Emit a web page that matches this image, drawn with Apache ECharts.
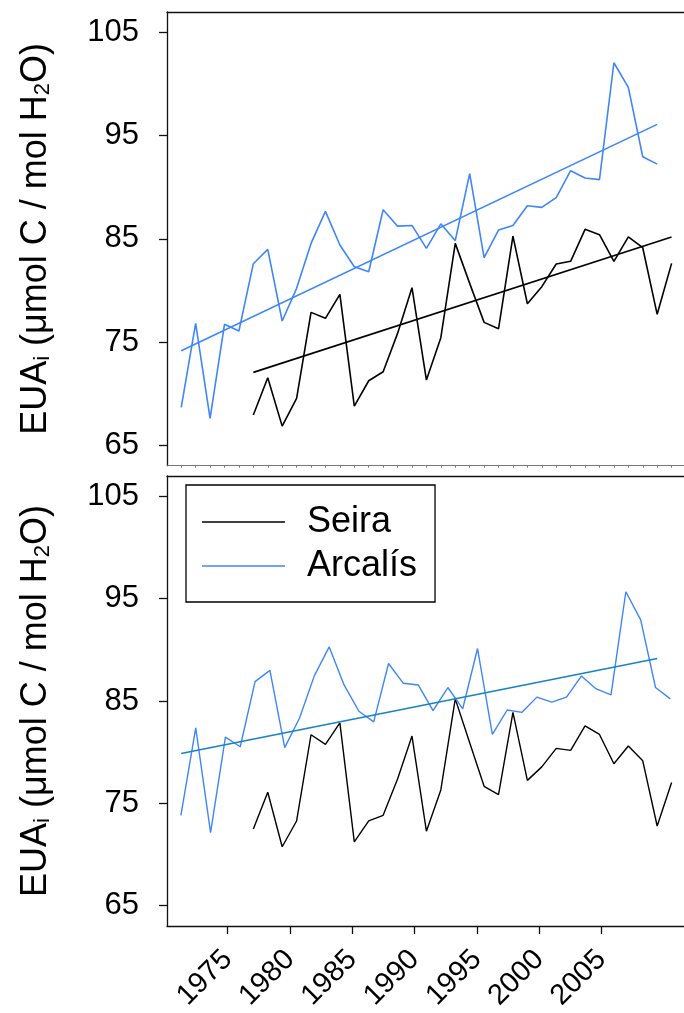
<!DOCTYPE html>
<html>
<head>
<meta charset="utf-8">
<script src="https://cdn.jsdelivr.net/npm/echarts@6/dist/echarts.min.js"></script>
<style>
    html, body { margin: 0; padding: 0; background: #fff; }
    #main { width: 684px; height: 1013px; }
</style>
</head>
<body>
<div id="main"></div>
<script>
// valores (EUAi)
// Arcalís, panel superior: índice 0..33
const arcalisTop = [68.66, 76.80, 67.59, 76.71, 76.06, 82.59, 83.98, 77.03, 80.20, 84.56,
    87.66, 84.40, 82.30, 81.81, 87.82, 86.23, 86.30, 84.08, 86.46, 84.82,
    91.32, 83.17, 85.85, 86.30, 88.21, 88.05, 88.99, 91.61, 90.90, 90.74,
    102.08, 99.69, 92.96, 92.25];
// Seira, panel superior: índice 5..34
const seiraTop = [67.91, 71.53, 66.84, 69.53, 77.87, 77.29, 79.62, 68.78, 71.24, 72.11,
    75.83, 80.26, 71.30, 75.41, 84.56, 80.68, 76.90, 76.28, 85.27, 78.71,
    80.36, 82.56, 82.82, 85.92, 85.40, 82.82, 85.20, 84.14, 77.68, 82.62];
// panel inferior
const seiraBottom = [72.49, 76.08, 70.75, 73.27, 81.70, 80.76, 82.86, 71.23, 73.27, 73.82,
    77.37, 81.57, 72.27, 76.30, 85.21, 80.92, 76.66, 75.85, 83.89, 77.24,
    78.56, 80.37, 80.17, 82.57, 81.73, 78.86, 80.60, 79.15, 72.78, 77.04];
const arcalisBottom = [73.82, 82.37, 72.13, 81.47, 80.53, 86.90, 88.00, 80.44, 83.34, 87.48,
    90.29, 86.57, 84.00, 82.96, 88.67, 86.73, 86.57, 84.05, 86.32, 84.24,
    90.13, 81.73, 84.12, 83.89, 85.38, 84.89, 85.38, 87.44, 86.18, 85.60,
    95.68, 92.94, 86.32, 85.21];
const seiraStart = 5;

// rectas de tendencia: [índice inicial, índice final] y valores
const trendArcalisTopX = [0, 33];
const trendArcalisTopY = [74.15, 96.10];
const trendSeiraTopX = [5, 34];
const trendSeiraTopY = [72.05, 85.17];
const trendBottomX = [0, 33];
const trendBottomY = [79.86, 89.16];

// etiquetas de ejes
const yTicks = [65, 75, 85, 95, 105];
const yearTicks = [1975, 1980, 1985, 1990, 1995, 2000, 2005];
const indexTicks = [];
for (let i = 0; i <= 34; i++) indexTicks.push(i);

const FONT = '"Liberation Sans", Arial, sans-serif';
const BLUE = '#3f86f7';
const TEAL = '#1783c6';

function pairs(values, start) {
    return values.map(function(v, k) { return [k + start, v]; });
}
function trend(xs, ys) {
    return xs.map(function(x, k) { return [x, ys[k]]; });
}

function yAxisFor(gridIndex) {
    return {
        type: 'value', gridIndex: gridIndex, min: 63, max: 107,
        name: '{m|EUA}{s|i}{m| (μmol C / mol H}{s|2}{m|O)}',
        nameLocation: 'middle', nameGap: 113,
        nameTextStyle: {
            color: '#000',
            rich: {
                m: { fontSize: 36, fontFamily: FONT, color: '#000', lineHeight: 36 },
                s: { fontSize: 22, fontFamily: FONT, color: '#000', lineHeight: 12, verticalAlign: 'bottom' }
            }
        },
        axisLine: { show: true, onZero: false, lineStyle: { color: '#111', width: 1.3 } },
        axisTick: { show: true, inside: false, length: 8, customValues: yTicks, lineStyle: { color: '#111', width: 1.3 } },
        axisLabel: { show: true, customValues: yTicks, margin: 28, fontSize: 31, fontFamily: FONT, color: '#000' },
        splitLine: { show: false }
    };
}

const chart = echarts.init(document.getElementById('main'));
const option = {
    animation: false,
    backgroundColor: '#fff',
    grid: [
        { left: 167, top: 12, width: 520, height: 453.7 },
        { left: 167, top: 476, width: 520, height: 453.5 }
    ],
    legend: {
        data: ['Seira', 'Arcalís'],
        orient: 'vertical',
        left: 186, top: 485,
        icon: 'rect', itemWidth: 83, itemHeight: 1.6, itemGap: 8,
        padding: [19, 18, 18, 16],
        borderColor: '#000', borderWidth: 1.3,
        textStyle: { fontSize: 36, fontFamily: FONT, color: '#000', padding: [0, 0, 0, 17] },
        selectedMode: false
    },
    xAxis: [
        // panel superior: eje de índice
        {
            type: 'value', gridIndex: 0, min: -0.986, max: 34.86,
            axisLine: { show: true, onZero: false, lineStyle: { color: '#777', width: 1 } },
            axisTick: { show: true, length: 2, customValues: indexTicks, lineStyle: { color: '#777' } },
            axisLabel: { show: false }, splitLine: { show: false }
        },
        {
            type: 'value', gridIndex: 0, position: 'top', min: 0, max: 1,
            axisLine: { show: true, onZero: false, lineStyle: { color: '#111', width: 1.3 } },
            axisTick: { show: false }, axisLabel: { show: false }, splitLine: { show: false }
        },
        // panel inferior: años
        {
            type: 'value', gridIndex: 1, min: 1970.13, max: 2011.62,
            axisLine: { show: true, onZero: false, lineStyle: { color: '#111', width: 1.3 } },
            axisTick: { show: true, length: 8, customValues: yearTicks, lineStyle: { color: '#111', width: 1.3 } },
            axisLabel: {
                show: true, customValues: yearTicks, rotate: 45, margin: 29,
                fontSize: 29, fontFamily: FONT, color: '#000',
                formatter: function(v) { return String(v); }
            },
            splitLine: { show: false }
        },
        {
            type: 'value', gridIndex: 1, position: 'top', min: -0.986, max: 34.86,
            axisLine: { show: true, onZero: false, lineStyle: { color: '#111', width: 1.3 } },
            axisTick: { show: false }, axisLabel: { show: false }, splitLine: { show: false }
        },
        // Arcalís inferior tiene otro espaciado
        { type: 'value', gridIndex: 1, min: -0.938, max: 33.92, show: false }
    ],
    yAxis: [yAxisFor(0), yAxisFor(1)],
    series: [
        {
            name: 'Arcalís', type: 'line', xAxisIndex: 0, yAxisIndex: 0, symbol: 'none',
            color: BLUE, lineStyle: { color: BLUE, width: 1.6 }, data: pairs(arcalisTop, 0)
        },
        {
            name: 'Seira', type: 'line', xAxisIndex: 0, yAxisIndex: 0, symbol: 'none',
            color: '#000', lineStyle: { color: '#000', width: 1.6 }, data: pairs(seiraTop, seiraStart)
        },
        {
            name: 'tendencia Arcalís', type: 'line', xAxisIndex: 0, yAxisIndex: 0, symbol: 'none',
            lineStyle: { color: BLUE, width: 1.6 }, data: trend(trendArcalisTopX, trendArcalisTopY)
        },
        {
            name: 'tendencia Seira', type: 'line', xAxisIndex: 0, yAxisIndex: 0, symbol: 'none',
            lineStyle: { color: '#000', width: 1.6 }, data: trend(trendSeiraTopX, trendSeiraTopY)
        },
        {
            name: 'Seira', type: 'line', xAxisIndex: 3, yAxisIndex: 1, symbol: 'none',
            color: '#000', lineStyle: { color: '#000', width: 1.4 }, data: pairs(seiraBottom, seiraStart)
        },
        {
            name: 'Arcalís', type: 'line', xAxisIndex: 4, yAxisIndex: 1, symbol: 'none',
            color: BLUE, lineStyle: { color: BLUE, width: 1.4 }, data: pairs(arcalisBottom, 0)
        },
        {
            name: 'tendencia', type: 'line', xAxisIndex: 3, yAxisIndex: 1, symbol: 'none',
            lineStyle: { color: TEAL, width: 1.6 }, data: trend(trendBottomX, trendBottomY)
        }
    ]
};
chart.setOption(option);
</script>
</body>
</html>
